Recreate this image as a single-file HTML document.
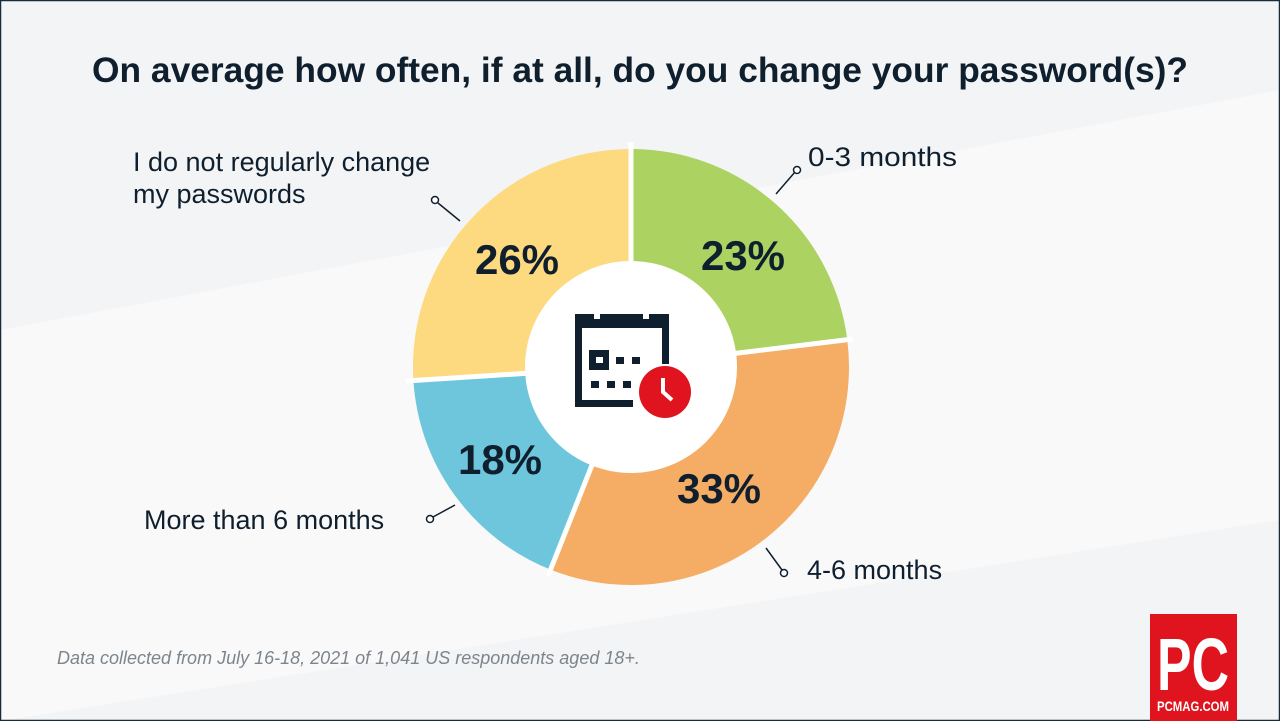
<!DOCTYPE html>
<html><head><meta charset="utf-8"><style>
body{margin:0;width:1280px;height:721px;overflow:hidden;font-family:"Liberation Sans",sans-serif;}
</style></head><body>
<svg width="1280" height="721" viewBox="0 0 1280 721" xmlns="http://www.w3.org/2000/svg">
<rect width="1280" height="721" fill="#f3f4f5"/>
<polygon points="0,330 1280,90 1280,520 0,721" fill="#f9f9fa"/>
<rect x="0.5" y="0.5" width="1279" height="720" fill="none" stroke="#1a2a3a" stroke-width="1.5"/>
<text x="640" y="82" text-anchor="middle" font-size="35" font-weight="bold" fill="#0f1f2e" textLength="1096" lengthAdjust="spacingAndGlyphs">On average how often, if at all, do you change your password(s)?</text>
<g transform="rotate(-90 631 367)" fill="none" stroke-width="115">
<circle cx="631" cy="367" r="160.5" stroke="#acd362" stroke-dasharray="231.9 1008.45"/>
<circle cx="631" cy="367" r="160.5" stroke="#f5ad65" stroke-dasharray="0 231.9 332.8 1008.45"/>
<circle cx="631" cy="367" r="160.5" stroke="#6ec6dc" stroke-dasharray="0 564.7 181.6 1008.45"/>
<circle cx="631" cy="367" r="160.5" stroke="#fdd97f" stroke-dasharray="0 746.3 262.2 1008.45"/>
</g>
<g stroke="#fff" stroke-width="5">
<line x1="631" y1="267" x2="631" y2="142"/>
<line x1="730" y1="354" x2="853" y2="339"/>
<line x1="594" y1="460" x2="548" y2="576"/>
<line x1="531" y1="373" x2="406" y2="381"/>
</g>
<circle cx="631" cy="367" r="106" fill="#fff"/>
<g font-size="42" font-weight="bold" fill="#0f1f2e" text-anchor="middle">
<text x="743" y="270">23%</text>
<text x="719" y="503">33%</text>
<text x="500" y="474">18%</text>
<text x="517" y="274">26%</text>
</g>
<g fill="#0f1f2e">
<rect x="575" y="314" width="93" height="14"/>
<rect x="575" y="314" width="7" height="93"/>
<rect x="662" y="314" width="7" height="50"/>
<rect x="575" y="400" width="58" height="7"/>
<rect x="589" y="350" width="20" height="20"/>
<rect x="616" y="357" width="8" height="7"/>
<rect x="632" y="357" width="8" height="7"/>
<rect x="591" y="381" width="8" height="7"/>
<rect x="607" y="381" width="8" height="7"/>
<rect x="623" y="381" width="8" height="7"/>
</g>
<rect x="596" y="357" width="7" height="6" fill="#fff"/>
<rect x="594" y="312" width="6" height="7" fill="#fff"/>
<rect x="643" y="312" width="6" height="7" fill="#fff"/>
<circle cx="665" cy="392" r="28" fill="#fff"/>
<circle cx="665" cy="392" r="26" fill="#e0141e"/>
<polyline points="663,378 663,392 672,400" fill="none" stroke="#fff" stroke-width="4"/>
<g fill="none" stroke="#0f1f2e" stroke-width="1.5">
<line x1="776" y1="194" x2="795" y2="172"/><circle cx="797" cy="170" r="3.5" fill="#fff"/>
<line x1="766" y1="548" x2="782" y2="570"/><circle cx="784" cy="573" r="3.5" fill="#fff"/>
<line x1="433" y1="517" x2="455" y2="505"/><circle cx="430" cy="519" r="3.5" fill="#fff"/>
<line x1="438" y1="203" x2="460" y2="221"/><circle cx="435" cy="200" r="3.5" fill="#fff"/>
</g>
<g font-size="27" fill="#0f1f2e">
<text x="808" y="166" textLength="149" lengthAdjust="spacingAndGlyphs">0-3 months</text>
<text x="807" y="579">4-6 months</text>
<text x="144" y="529">More than 6 months</text>
<text x="133" y="171">I do not regularly change</text>
<text x="133" y="203">my passwords</text>
</g>
<text x="57" y="664" font-size="18" font-style="italic" fill="#7d858c">Data collected from July 16-18, 2021 of 1,041 US respondents aged 18+.</text>
<rect x="1150" y="614" width="87" height="107" fill="#e0141e"/>
<text x="1193" y="690" text-anchor="middle" font-size="74" font-weight="bold" fill="#fff" textLength="72" lengthAdjust="spacingAndGlyphs">PC</text>
<text x="1193" y="711" text-anchor="middle" font-size="14" font-weight="bold" fill="#fff" textLength="72" lengthAdjust="spacingAndGlyphs">PCMAG.COM</text>
</svg>
</body></html>
